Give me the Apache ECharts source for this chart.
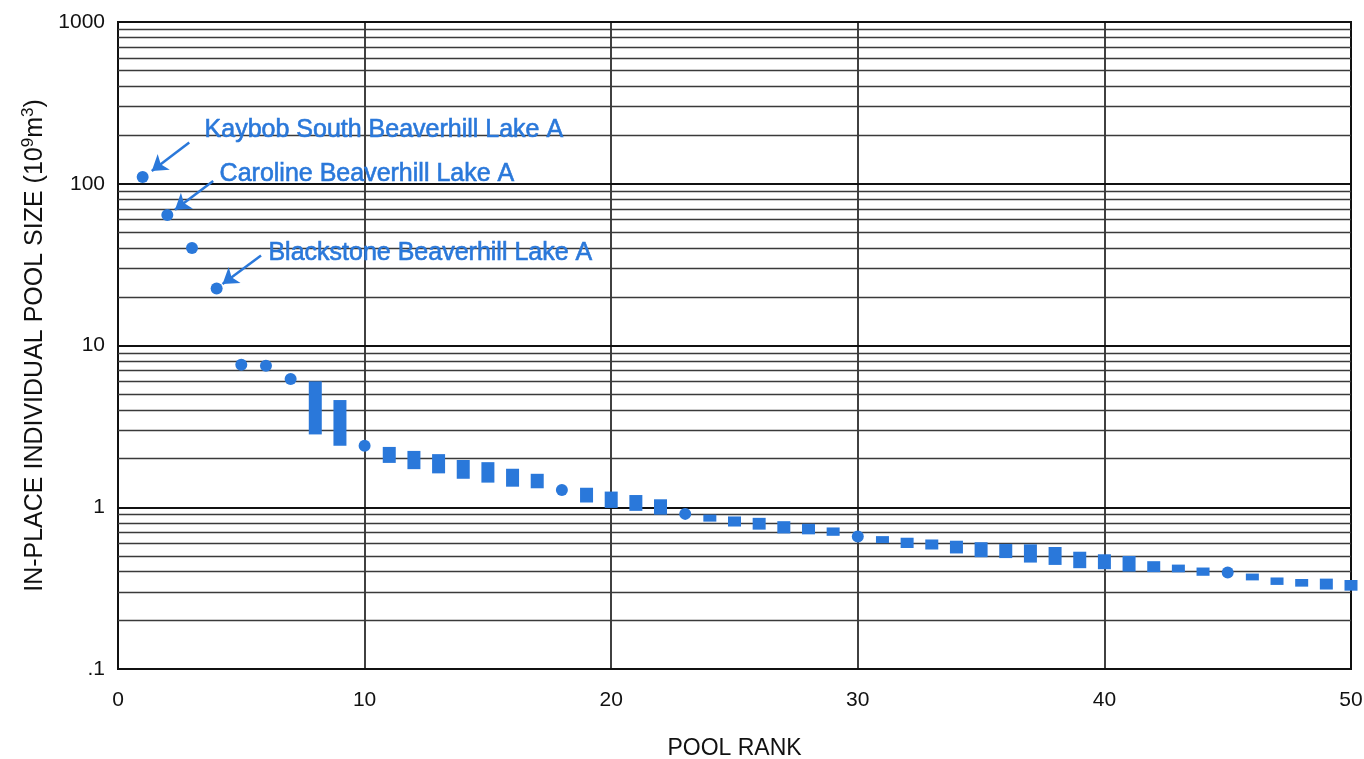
<!DOCTYPE html>
<html>
<head>
<meta charset="utf-8">
<script src="https://cdn.jsdelivr.net/npm/echarts@6/dist/echarts.min.js"></script>
<style>
  html, body { margin: 0; padding: 0; background: #ffffff; }
  #chart { width: 1364px; height: 759px; }
</style>
</head>
<body>
<div id="chart"></div>
<script>
// ---- Data ----
const xTickLabels = ['0', '10', '20', '30', '40', '50'];
const yTickLabels = ['.1', '1', '10', '100', '1000'];

// pools plotted as single points (circles)
const circleRanks  = [1, 2, 3, 4, 5, 6, 7, 10, 18, 23, 30, 45];
const circleValues = [110, 64, 40, 22.5, 7.6, 7.5, 6.2, 2.4, 1.28, 0.91, 0.66, 0.395];

// pools plotted as ranges (rectangles): low / high size
const rangeRanks = [8, 9, 11, 12, 13, 14, 15, 16, 17, 19, 20, 21, 22, 24, 25, 26, 27, 28, 29,
                    31, 32, 33, 34, 35, 36, 37, 38, 39, 40, 41, 42, 43, 44, 46, 47, 48, 49, 50];
const rangeLow  = [2.82, 2.40, 1.88, 1.72, 1.62, 1.50, 1.42, 1.34, 1.31, 1.07, 0.99, 0.95, 0.90,
                   0.815, 0.76, 0.727, 0.689, 0.68, 0.666,
                   0.60, 0.56, 0.548, 0.518, 0.491, 0.485, 0.455, 0.44, 0.42, 0.414, 0.40,
                   0.397, 0.396, 0.377, 0.353, 0.331, 0.323, 0.31, 0.305];
const rangeHigh = [6.0, 4.6, 2.36, 2.23, 2.13, 1.96, 1.90, 1.73, 1.61, 1.32, 1.25, 1.19, 1.12,
                   0.90, 0.877, 0.86, 0.82, 0.79, 0.75,
                   0.663, 0.648, 0.632, 0.621, 0.608, 0.593, 0.59, 0.568, 0.531, 0.512, 0.50,
                   0.464, 0.442, 0.424, 0.389, 0.368, 0.360, 0.362, 0.355];

// annotations
const annotationTexts = ['Kaybob South Beaverhill Lake A', 'Caroline Beaverhill Lake A', 'Blackstone Beaverhill Lake A'];
const annotationAnchors = [[3.49, 216], [4.1, 114], [6.08, 37.5]];
const arrowStarts = [[2.89, 180], [3.86, 104], [5.8, 36]];
const arrowEnds   = [[1.37, 120], [2.31, 69], [4.24, 24]];

// minor grid lines (2..9 per decade)
const minorMultipliers = [2, 3, 4, 5, 6, 7, 8, 9];
const decades = [0.1, 1, 10, 100];

// ---- Build ----
const BLUE = '#2a78da';
const FONT = '"Liberation Sans", Arial, sans-serif';

const circleData = circleRanks.map((r, i) => [r, circleValues[i]]);
const rangeData = rangeRanks.map((r, i) => [r, rangeLow[i], rangeHigh[i]]);
const minorLines = [];
decades.forEach(d => minorMultipliers.forEach(m => minorLines.push({ yAxis: +(d * m).toPrecision(6) })));

const chart = echarts.init(document.getElementById('chart'), null, { renderer: 'canvas' });

const option = {
  backgroundColor: '#ffffff',
  animation: false,
  grid: {
    left: 118, right: 13, top: 22, bottom: 90,
    containLabel: false, outerBoundsMode: 'none',
    show: true, borderColor: '#111', borderWidth: 2, backgroundColor: 'transparent'
  },
  xAxis: {
    type: 'value', min: 0, max: 50, interval: 10,
    name: 'POOL RANK', nameLocation: 'middle', nameGap: 68,
    nameTextStyle: { fontFamily: FONT, fontSize: 23, color: '#111' },
    axisLine: { show: true, lineStyle: { color: '#111', width: 2 } },
    axisTick: { show: false },
    axisLabel: {
      margin: 21, fontFamily: FONT, fontSize: 21, color: '#111',
      formatter: v => xTickLabels[Math.round(v / 10)]
    },
    splitLine: { show: true, lineStyle: { color: '#111', width: 1.6 } }
  },
  yAxis: {
    type: 'log', logBase: 10, min: 0.1, max: 1000,
    name: '{a|IN-PLACE INDIVIDUAL POOL SIZE (10}{s|9}{a|m}{s|3}{a|)}',
    nameLocation: 'middle', nameGap: 68,
    nameTextStyle: {
      rich: {
        a: { fontFamily: FONT, fontSize: 25, color: '#111', lineHeight: 30 },
        s: { fontFamily: FONT, fontSize: 17, color: '#111', verticalAlign: 'top', lineHeight: 30 }
      }
    },
    axisLine: { show: true, lineStyle: { color: '#111', width: 2 } },
    axisTick: { show: false },
    axisLabel: {
      margin: 13, fontFamily: FONT, fontSize: 21, color: '#111',
      formatter: v => yTickLabels[Math.round(Math.log10(v)) + 1]
    },
    splitLine: { show: true, lineStyle: { color: '#111', width: 1.8 } }
  },
  series: [
    {
      name: 'minorGrid', type: 'line', data: [], silent: true,
      markLine: {
        silent: true, symbol: ['none', 'none'], label: { show: false },
        lineStyle: { color: '#3a3a3a', width: 1.3, type: 'solid' },
        data: minorLines
      }
    },
    {
      name: 'ranges', type: 'custom', data: rangeData,
      encode: { x: 0, y: [1, 2] },
      renderItem: function (params, api) {
        const x = api.value(0);
        const top = api.coord([x, api.value(2)]);
        const bot = api.coord([x, api.value(1)]);
        const w = 13;
        return {
          type: 'rect',
          shape: { x: top[0] - w / 2, y: top[1], width: w, height: Math.max(bot[1] - top[1], 6) },
          style: { fill: BLUE }
        };
      },
      z: 5
    },
    {
      name: 'pools', type: 'scatter', data: circleData,
      symbol: 'circle', symbolSize: 12,
      itemStyle: { color: BLUE, opacity: 1 },
      z: 6
    },
    {
      name: 'annotations', type: 'scatter',
      data: annotationAnchors.map((a, i) => ({ value: a, name: annotationTexts[i] })),
      symbolSize: 1, silent: true,
      itemStyle: { color: 'rgba(0,0,0,0)', opacity: 1 },
      label: {
        show: true, position: 'right', distance: 0,
        formatter: p => p.name,
        fontFamily: FONT, fontSize: 25, color: BLUE, opacity: 1,
        textBorderColor: BLUE, textBorderWidth: 0.6
      },
      markLine: {
        silent: true,
        symbol: ['none', 'arrow'], symbolSize: 15,
        label: { show: false },
        lineStyle: { color: BLUE, width: 2.5, type: 'solid' },
        data: arrowStarts.map((s, i) => [{ coord: s }, { coord: arrowEnds[i] }])
      },
      z: 7
    }
  ]
};
chart.setOption(option);
</script>
</body>
</html>
